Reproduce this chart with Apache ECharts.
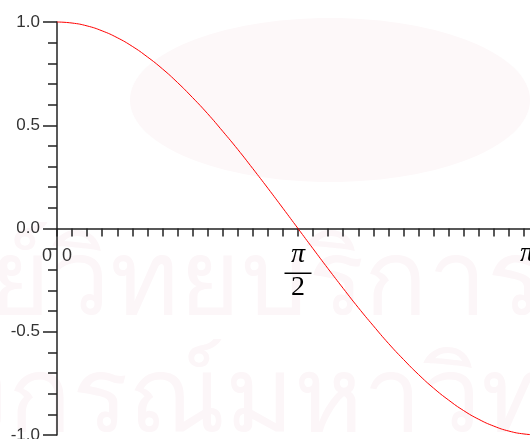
<!DOCTYPE html>
<html>
<head>
<meta charset="utf-8">
<script src="https://cdn.jsdelivr.net/npm/echarts@6/dist/echarts.min.js"></script>
<style>
  html, body { margin: 0; padding: 0; background: #fff; }
  #main { width: 530px; height: 439px; }
</style>
</head>
<body>
<div id="main"></div>
<script>
// x in steps of pi/32, so 16 = pi/2 and 32 = pi
const xSteps = [0, 1, 2, 3, 4, 5, 6, 7, 8, 9, 10, 11, 12, 13, 14, 15, 16,
  17, 18, 19, 20, 21, 22, 23, 24, 25, 26, 27, 28, 29, 30, 31, 32];
const yValues = [1.000, 0.995, 0.981, 0.957, 0.924, 0.882, 0.831, 0.773, 0.707,
  0.634, 0.556, 0.471, 0.383, 0.290, 0.195, 0.098, 0.000,
  -0.098, -0.195, -0.290, -0.383, -0.471, -0.556, -0.634, -0.707,
  -0.773, -0.831, -0.882, -0.924, -0.957, -0.981, -0.995, -1.000];
const yTicks = [-1.0, -0.5, 0.0, 0.5, 1.0];

const chartDom = document.getElementById('main');
const myChart = echarts.init(chartDom);

const points = xSteps.map((x, i) => [x, yValues[i]]);
const gridTop = 22, gridBottom = 4, chartH = 439;
// move the x axis up to y = 0 (middle of the plot)
const zeroOffset = -(chartH - gridTop - gridBottom) / 2;

const option = {
    animation: false,
    backgroundColor: '#ffffff',
    graphic: [
        {
            type: 'ellipse',
            shape: { cx: 330, cy: 100, rx: 200, ry: 82 },
            style: { fill: '#fdf8f9' },
            silent: true,
            z: -10
        },
        {
            type: 'text',
            left: -150, top: 233,
            style: { text: 'ศูนย์วิทยบริการ', fontSize: 105, fill: '#fcf6f8', fontFamily: 'sans-serif' },
            silent: true,
            z: -10
        },
        {
            type: 'text',
            left: -300, top: 350,
            style: { text: 'จุฬาลงกรณ์มหาวิทยาลัย', fontSize: 105, fill: '#fcf6f8', fontFamily: 'sans-serif' },
            silent: true,
            z: -10
        }
    ],
    grid: {
        left: 57,
        right: -9,
        top: gridTop,
        bottom: gridBottom,
        containLabel: false,
        outerBoundsMode: 'none'
    },
    xAxis: {
        type: 'value',
        min: 0,
        max: 32,
        interval: 1,
        position: 'bottom',
        offset: zeroOffset,
        axisLine: { onZero: false, lineStyle: { color: '#222', width: 1.5 } },
        axisTick: { show: true, inside: false, length: 8, lineStyle: { color: '#222', width: 1.5 } },
        splitLine: { show: false },
        axisLabel: {
            margin: 8,
            showMinLabel: true,
            showMaxLabel: true,
            hideOverlap: false,
            formatter: function (v) {
                if (v === 0) return '{z|0  0}';
                if (v === 16) return '{p|π}\n{l| }\n{d|2}';
                if (v === 32) return '{q|π}';
                return '';
            },
            rich: {
                z: { fontSize: 18, color: '#333', fontFamily: 'Liberation Sans', padding: [11, 0, 0, 0] },
                p: { fontSize: 28, color: '#000', fontStyle: 'italic', fontFamily: 'Liberation Serif', height: 36, align: 'center' },
                l: { fontSize: 1, height: 1.5, width: 27, backgroundColor: '#000', align: 'center' },
                d: { fontSize: 28, color: '#000', fontFamily: 'Liberation Serif', height: 28, align: 'center' },
                q: { fontSize: 28, color: '#000', fontStyle: 'italic', fontFamily: 'Liberation Serif', height: 34, padding: [0, 24, 0, 0] }
            }
        }
    },
    yAxis: {
        type: 'value',
        min: yTicks[0],
        max: yTicks[yTicks.length - 1],
        interval: 0.5,
        axisLine: { show: true, onZero: false, lineStyle: { color: '#222', width: 1.5 } },
        axisTick: { show: true, length: 14, lineStyle: { color: '#222', width: 1.5 } },
        minorTick: { show: true, splitNumber: 5, length: 9, lineStyle: { color: '#222', width: 1.5 } },
        splitLine: { show: false },
        axisLabel: {
            margin: 17,
            color: '#333',
            fontSize: 17,
            fontFamily: 'Liberation Sans',
            formatter: function (v) { return v.toFixed(1); }
        }
    },
    series: [{
        type: 'line',
        data: points,
        smooth: true,
        symbol: 'none',
        lineStyle: { color: '#ff0000', width: 1 },
        clip: false
    }]
};

myChart.setOption(option);
</script>
</body>
</html>
